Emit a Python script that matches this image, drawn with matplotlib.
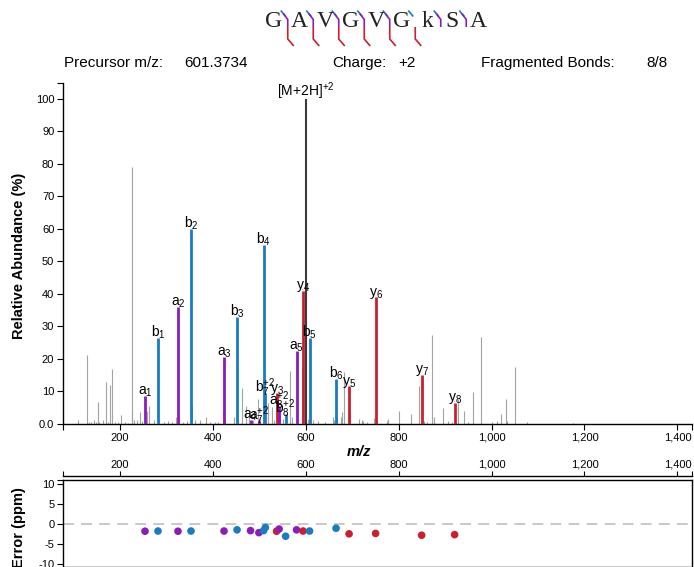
import matplotlib
matplotlib.use("Agg")
import matplotlib.pyplot as plt
from matplotlib.lines import Line2D

plt.rcParams["font.family"] = ["Liberation Sans", "DejaVu Sans"]
plt.rcParams["mathtext.fontset"] = "custom"
plt.rcParams["mathtext.rm"] = "Liberation Sans"
plt.rcParams["mathtext.it"] = "Liberation Sans:italic"
plt.rcParams["mathtext.bf"] = "Liberation Sans:bold"

W, H = 694, 567

# ---- peptide / precursor info ----
sequence = ["G", "A", "V", "G", "V", "G", "k", "S", "A"]
precursor_mz = 601.3734
precursor_intensity = 100.0
charge_text = "+2"
fragmented_text = "8/8"

# ---- annotated fragment ions ----
ion_type = ["a", "b", "a", "b", "a", "b", "a", "a", "b", "b", "y",
            "a", "b", "a", "y", "b", "b", "y", "y", "y", "y"]
ion_index = [1, 1, 2, 2, 3, 3, 4, 7, 4, 7, 3,
             8, 8, 5, 4, 5, 6, 5, 6, 7, 8]
ion_charge = [1, 1, 1, 1, 1, 1, 1, 2, 1, 2, 1,
              2, 2, 1, 1, 1, 1, 1, 1, 1, 1]
ion_mz = [254.1863, 282.1812, 325.2234, 353.2183, 424.2918, 452.2867,
          481.3133, 499.3360, 509.3082, 513.3335, 537.3486, 542.8521,
          556.8495, 580.3817, 594.3701, 608.3766, 665.3981, 693.4385,
          750.4600, 849.5284, 920.5655]
ion_intensity = [8.4, 26.4, 35.9, 60.0, 20.4, 32.8, 1.2, 0.7, 55.0, 9.4, 9.4,
                 5.3, 2.8, 22.3, 40.9, 26.2, 13.8, 11.4, 38.9, 15.0, 6.4]
ion_error_ppm = [-1.75, -1.7, -1.75, -1.7, -1.7, -1.4, -1.6, -2.1, -1.6, -0.8,
                 -1.75, -1.2, -3.0, -1.4, -1.7, -1.7, -1.0, -2.4, -2.3, -2.75, -2.6]

# ---- unassigned peaks ----
other_mz = [110.7, 128.8, 133.7, 138.0, 145.1, 148.8, 153.7, 156.3, 164.5, 170.3,
            174.6, 178.9, 183.9, 189.7, 196.8, 201.9, 211.2, 218.3, 225.2, 226.9,
            231.2, 237.7, 243.5, 247.1, 259.2, 263.5, 272.9, 283.7, 295.8, 304.4,
            311.7, 320.9, 328.0, 336.6, 344.0, 354.7, 361.8, 372.6, 385.5, 394.1,
            404.9, 411.3, 422.7, 427.0, 445.7, 455.0, 462.3, 470.9, 478.0, 486.6,
            498.0, 502.7, 519.6, 526.9, 531.8, 545.8, 550.6, 566.3, 571.6, 592.0,
            605.6, 615.7, 626.5, 641.6, 659.4, 661.6, 667.4, 675.3, 678.8, 683.1,
            696.0, 715.4, 720.5, 724.0, 732.6, 746.3, 752.8, 774.3, 777.8, 801.5,
            826.0, 844.5, 854.0, 861.1, 872.5, 875.5, 896.2, 906.9, 914.2, 927.5,
            940.7, 950.0, 960.7, 977.9, 1000.3, 1012.4, 1020.0, 1031.1, 1033.9,
            1049.8, 1076.9, 1175.9]
other_intensity = [1.0, 21.0, 0.5, 0.4, 1.0, 0.4, 6.6, 0.5, 1.0, 12.7,
                   0.5, 11.8, 16.9, 0.6, 0.4, 2.5, 0.5, 0.3, 79.0, 3.5,
                   1.0, 1.2, 3.5, 0.8, 3.8, 5.3, 1.0, 1.0, 0.5, 0.8,
                   0.5, 1.9, 1.9, 0.5, 0.7, 5.4, 1.0, 1.0, 2.0, 0.5,
                   0.6, 0.5, 3.5, 1.5, 2.0, 1.5, 11.0, 5.3, 3.6, 1.0,
                   7.6, 2.0, 6.2, 5.0, 1.0, 4.0, 1.5, 16.3, 2.0, 17.0,
                   1.5, 1.0, 0.8, 0.5, 2.0, 1.0, 2.0, 2.0, 3.5, 15.8,
                   4.0, 1.5, 1.2, 0.8, 0.5, 1.8, 1.0, 0.8, 1.5, 4.0,
                   2.8, 11.5, 0.8, 0.5, 27.2, 2.0, 4.8, 0.8, 0.5, 7.4,
                   3.7, 0.5, 9.6, 26.6, 0.4, 0.7, 3.0, 7.7, 0.8,
                   17.5, 0.5, 0.3]

x_ticks = [200, 400, 600, 800, 1000, 1200, 1400]
x_tick_labels = ["200", "400", "600", "800", "1,000", "1,200", "1,400"]
y_ticks = [0, 10, 20, 30, 40, 50, 60, 70, 80, 90, 100]
y_tick_labels = ["0.0", "10", "20", "30", "40", "50", "60", "70", "80", "90", "100"]
err_ticks = [10, 5, 0, -5, -10]
err_tick_labels = ["10", "5", "0", "-5", "-10"]

ION_COLORS = {"a": "#8a1cb9", "b": "#1a7bc1", "y": "#c9202f"}
OTHER_COLOR = "#a3a3a3"
PREC_COLOR = "#3a3a3a"
XLIM = (78.4, 1431.4)


def px_rect(left, top, right, bottom):
    return [left / W, 1 - bottom / H, (right - left) / W, (bottom - top) / H]


def ion_label(t, n, z):
    if z > 1:
        return r"$\mathregular{%s_{%d}^{+%d}}$" % (t, n, z)
    return r"$\mathregular{%s_{%d}}$" % (t, n)


fig = plt.figure(figsize=(W / 100, H / 100), dpi=100)

# ---------------- spectrum ----------------
ax = fig.add_axes(px_rect(63.3, 82.7, 692, 423.5))
ax.vlines(other_mz, 0, other_intensity, color=OTHER_COLOR, lw=0.8, zorder=1)
ax.vlines([precursor_mz], 0, [precursor_intensity], color=PREC_COLOR, lw=1.5, zorder=2)
for t, n, z, mz, inten in zip(ion_type, ion_index, ion_charge, ion_mz, ion_intensity):
    ax.vlines([mz], 0, [inten], color=ION_COLORS[t], lw=2.0, zorder=3)
    ax.annotate(ion_label(t, n, z), (mz, inten), xytext=(0, 1),
                textcoords="offset points", ha="center", va="baseline",
                fontsize=10, zorder=4)
ax.annotate(r"$\mathregular{[M{+}2H]^{+2}}$", (precursor_mz, precursor_intensity),
            xytext=(0, 2), textcoords="offset points", ha="center",
            va="baseline", fontsize=10)

ax.set_xlim(*XLIM)
ax.set_ylim(0, 105)
ax.spines["top"].set_visible(False)
ax.spines["right"].set_visible(False)
for s in ("left", "bottom"):
    ax.spines[s].set_linewidth(1.0)
ax.set_xticks(x_ticks)
ax.set_xticklabels(x_tick_labels)
ax.set_yticks(y_ticks)
ax.set_yticklabels(y_tick_labels)
ax.set_xticks(list(XLIM), minor=True)
ax.set_yticks([105], minor=True)
ax.tick_params(which="both", length=4.5, width=0.8, labelsize=8, pad=2)
ax.set_xlabel("m/z", fontsize=10.5, fontweight="bold", fontstyle="italic")
ax.xaxis.set_label_coords((359 - 63.3) / (692 - 63.3), -(452 - 423.5) / (423.5 - 82.7))
ax.xaxis.label.set_verticalalignment("center")

# ---------------- mass error ----------------
axe = fig.add_axes(px_rect(63.3, 480, 692, 567))
axe.set_xlim(*XLIM)
axe.set_ylim(-10.7, 11.07)
axe.axhline(0, color="#c4c4c4", lw=1.3, ls=(0, (6, 4)), zorder=1)
for t, mz, err in zip(ion_type, ion_mz, ion_error_ppm):
    axe.scatter([mz], [err], s=30, color=ION_COLORS[t], edgecolors="none", zorder=3)
axe.set_yticks(err_ticks)
axe.set_yticklabels(err_tick_labels)
axe.set_yticks([11.07], minor=True)
axe.tick_params(axis="x", which="both", bottom=False, labelbottom=False)
axe.tick_params(axis="y", which="both", length=4.5, width=0.8, labelsize=8, pad=2)
for s in axe.spines.values():
    s.set_linewidth(1.0)

# m/z scale above the error panel
axt = fig.add_axes(px_rect(63.3, 475.5, 692, 475.6))
axt.set_xlim(*XLIM)
axt.patch.set_visible(False)
for s in ("left", "right", "bottom"):
    axt.spines[s].set_visible(False)
axt.spines["top"].set_linewidth(1.0)
axt.set_yticks([])
axt.xaxis.tick_top()
axt.set_xticks(x_ticks)
axt.set_xticklabels(x_tick_labels)
axt.set_xticks(list(XLIM), minor=True)
axt.tick_params(axis="x", which="both", length=3.5, width=0.8, labelsize=8, pad=0.5)

# ---------------- axis titles ----------------
fig.text(19 / W, 1 - 256 / H, "Relative Abundance (%)", rotation=90,
         fontsize=10.5, fontweight="bold", ha="center", va="center")
fig.text(19 / W, 1 - 528 / H, "Error (ppm)", rotation=90,
         fontsize=10.5, fontweight="bold", ha="center", va="center")

# ---------------- header ----------------
hy = 1 - 63 / H
fig.text(64 / W, hy, "Precursor m/z:", fontsize=11, va="center")
fig.text(184 / W, hy, f"{precursor_mz:.4f}", fontsize=11, va="center")
fig.text(332 / W, hy, "Charge:", fontsize=11, va="center")
fig.text(398 / W, hy, charge_text, fontsize=11, va="center")
fig.text(481 / W, hy, "Fragmented Bonds:", fontsize=11, va="center")
fig.text(646 / W, hy, fragmented_text, fontsize=11, va="center")

# ---------------- sequence with cleavage marks ----------------
seq_x0, seq_dx, seq_y = 274.0, 25.5, 21.5
for i, aa in enumerate(sequence):
    fig.text((seq_x0 + i * seq_dx) / W, 1 - seq_y / H, aa, fontsize=17,
             family="Liberation Serif", ha="center", va="center", color="#222222")

n_res = len(sequence)
bonds_b = {n for t, n in zip(ion_type, ion_index) if t == "b"}
bonds_a = {n for t, n in zip(ion_type, ion_index) if t == "a"}
bonds_y = {n_res - n for t, n in zip(ion_type, ion_index) if t == "y"}


def fig_line(xs, ys, color):
    fig.add_artist(Line2D([x / W for x in xs], [1 - y / H for y in ys],
                          transform=fig.transFigure, color=color, lw=1.2,
                          solid_capstyle="butt", solid_joinstyle="miter"))


for k in range(1, n_res):
    xc = seq_x0 + (k - 0.5) * seq_dx
    if k in bonds_b:
        fig_line([xc - 6, xc - 1], [10.5, 16.5], ION_COLORS["b"])
    if k in bonds_a:
        fig_line([xc - 3.5, xc + 1, xc + 1], [13.5, 19.5, 27], ION_COLORS["a"])
    if k in bonds_y:
        fig_line([xc + 1, xc + 1, xc + 7], [27, 39, 46], ION_COLORS["y"])

fig.savefig("out.png", dpi=100)
